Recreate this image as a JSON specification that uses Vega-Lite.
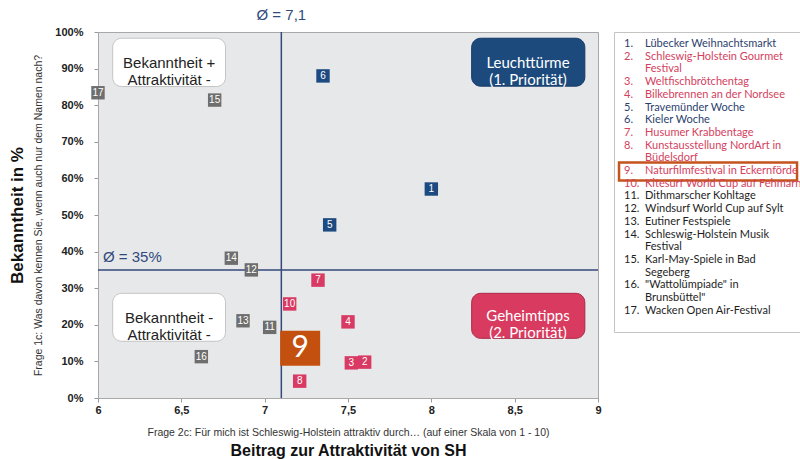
{
  "$schema": "https://vega.github.io/schema/vega-lite/v6.json",
  "padding": {"left": 7, "top": 7, "right": 0, "bottom": 0},
  "background": "white",
  "spacing": 11,
  "config": {"font": "Liberation Sans", "view": {"stroke": null}, "axis": {"labelOverlap": false, "labelSeparation": 0}},
  "resolve": {"scale": {"x": "independent", "y": "independent", "color": "independent"}, "axis": {"x": "independent", "y": "independent"}},
  "datasets": {
    "pts": [
      {"id": "1", "x": 8.0, "y": 0.571, "cat": "blue"},
      {"id": "2", "x": 7.6, "y": 0.098, "cat": "red"},
      {"id": "3", "x": 7.52, "y": 0.096, "cat": "red"},
      {"id": "4", "x": 7.5, "y": 0.208, "cat": "red"},
      {"id": "5", "x": 7.39, "y": 0.473, "cat": "blue"},
      {"id": "6", "x": 7.35, "y": 0.88, "cat": "blue"},
      {"id": "7", "x": 7.32, "y": 0.322, "cat": "red"},
      {"id": "8", "x": 7.21, "y": 0.046, "cat": "red"},
      {"id": "10", "x": 7.15, "y": 0.257, "cat": "red"},
      {"id": "11", "x": 7.03, "y": 0.193, "cat": "grey"},
      {"id": "12", "x": 6.92, "y": 0.35, "cat": "grey"},
      {"id": "13", "x": 6.87, "y": 0.211, "cat": "grey"},
      {"id": "14", "x": 6.8, "y": 0.382, "cat": "grey"},
      {"id": "15", "x": 6.7, "y": 0.814, "cat": "grey"},
      {"id": "16", "x": 6.62, "y": 0.113, "cat": "grey"},
      {"id": "17", "x": 6.0, "y": 0.834, "cat": "grey"}
    ],
    "boxes": [
      {"kind": "plain", "x": 6.088, "x2": 6.765, "y": 0.983, "y2": 0.851, "xc": 6.427, "yc": 0.915, "label": ["Bekanntheit +", "Attraktivität -"]},
      {"kind": "top", "x": 8.242, "x2": 8.921, "y": 0.983, "y2": 0.852, "xc": 8.58, "yc": 0.915, "label": ["Leuchttürme", "(1. Priorität)"]},
      {"kind": "plain", "x": 6.088, "x2": 6.765, "y": 0.286, "y2": 0.155, "xc": 6.427, "yc": 0.219, "label": ["Bekanntheit -", "Attraktivität -"]},
      {"kind": "secret", "x": 8.242, "x2": 8.921, "y": 0.286, "y2": 0.163, "xc": 8.58, "yc": 0.225, "label": ["Geheimtipps", "(2. Priorität)"]}
    ],
    "legend": [
      {"line": 0, "num": "1.", "name": "Lübecker Weihnachtsmarkt", "cat": "blue"},
      {"line": 1, "num": "2.", "name": "Schleswig-Holstein Gourmet", "cat": "red"},
      {"line": 2, "num": "", "name": "Festival", "cat": "red"},
      {"line": 3, "num": "3.", "name": "Weltfischbrötchentag", "cat": "red"},
      {"line": 4, "num": "4.", "name": "Bilkebrennen an der Nordsee", "cat": "red"},
      {"line": 5, "num": "5.", "name": "Travemünder Woche", "cat": "blue"},
      {"line": 6, "num": "6.", "name": "Kieler Woche", "cat": "blue"},
      {"line": 7, "num": "7.", "name": "Husumer Krabbentage", "cat": "red"},
      {"line": 8, "num": "8.", "name": "Kunstausstellung NordArt in", "cat": "red"},
      {"line": 9, "num": "", "name": "Büdelsdorf", "cat": "red"},
      {"line": 10, "num": "9.", "name": "Naturfilmfestival in Eckernförde", "cat": "red"},
      {"line": 11, "num": "10.", "name": "Kitesurf World Cup auf Fehmarn", "cat": "red"},
      {"line": 12, "num": "11.", "name": "Dithmarscher Kohltage", "cat": "black"},
      {"line": 13, "num": "12.", "name": "Windsurf World Cup auf Sylt", "cat": "black"},
      {"line": 14, "num": "13.", "name": "Eutiner Festspiele", "cat": "black"},
      {"line": 15, "num": "14.", "name": "Schleswig-Holstein Musik", "cat": "black"},
      {"line": 16, "num": "", "name": "Festival", "cat": "black"},
      {"line": 17, "num": "15.", "name": "Karl-May-Spiele in Bad", "cat": "black"},
      {"line": 18, "num": "", "name": "Segeberg", "cat": "black"},
      {"line": 19, "num": "16.", "name": "\"Wattolümpiade\" in", "cat": "black"},
      {"line": 20, "num": "", "name": "Brunsbüttel\"", "cat": "black"},
      {"line": 21, "num": "17.", "name": "Wacken Open Air-Festival", "cat": "black"}
    ]
  },
  "hconcat": [
    {
      "width": 500,
      "height": 366,
      "view": {"fill": "#e7e8e9", "stroke": "#a8a8a8"},
      "resolve": {"axis": {"x": "independent", "y": "independent"}},
      "layer": [
        {
          "layer": [
            {
              "data": {"name": "boxes"},
              "mark": {"type": "rect", "cornerRadius": 9, "strokeWidth": 1},
              "encoding": {
                "x": {"field": "x", "type": "quantitative",
                  "scale": {"domain": [6, 9], "nice": false, "zero": false},
                  "axis": {"values": [6, 6.5, 7, 7.5, 8, 8.5, 9], "labelExpr": "replace(format(datum.value, '.2~f'), '.', ',')",
                    "labelFlush": false, "labelOverlap": false, "labelFontWeight": "bold", "labelFontSize": 11, "labelColor": "#222222",
                    "labelPadding": 2, "tickSize": 4, "tickColor": "#9a9a9a", "domainColor": "#a8a8a8", "grid": false,
                    "title": "Frage 2c: Für mich ist Schleswig-Holstein attraktiv durch… (auf einer Skala von 1 - 10)",
                    "titleFontSize": 10.5, "titleFontWeight": "normal", "titleColor": "#333333", "titlePadding": 12}},
                "x2": {"field": "x2"},
                "y": {"field": "y", "type": "quantitative",
                  "scale": {"domain": [0, 1], "nice": false, "zero": false},
                  "axis": {"values": [0, 0.1, 0.2, 0.3, 0.4, 0.5, 0.6, 0.7, 0.8, 0.9, 1], "tickCount": 11, "labelExpr": "format(datum.value, '.0%')",
                    "labelFlush": false, "labelOverlap": false, "labelFontWeight": "bold", "labelFontSize": 11, "labelColor": "#222222",
                    "labelPadding": 11, "tickSize": 4, "tickColor": "#9a9a9a", "domainColor": "#a8a8a8", "grid": false,
                    "title": "Frage 1c: Was davon kennen Sie, wenn auch nur dem Namen nach?",
                    "titleFontSize": 10.5, "titleFontWeight": "normal", "titleColor": "#333333", "titlePadding": 11}},
                "y2": {"field": "y2"},
                "fill": {"field": "kind", "type": "nominal", "legend": null,
                  "scale": {"domain": ["plain", "top", "secret"], "range": ["#ffffff", "#1d4a7d", "#d93a60"]}},
                "stroke": {"field": "kind", "type": "nominal", "legend": null,
                  "scale": {"domain": ["plain", "top", "secret"], "range": ["#c4c4c4", "#143866", "#a92a48"]}}
              }
            },
            {
              "data": {"name": "boxes"},
              "transform": [{"filter": "datum.kind == 'plain'"}],
              "mark": {"type": "text", "font": "Liberation Sans", "fontSize": 15, "lineHeight": 17, "color": "#222222", "baseline": "middle"},
              "encoding": {
                "x": {"field": "xc", "type": "quantitative"},
                "y": {"field": "yc", "type": "quantitative"},
                "text": {"field": "label"}
              }
            },
            {
              "data": {"name": "boxes"},
              "transform": [{"filter": "datum.kind != 'plain'"}],
              "mark": {"type": "text", "font": "Lato", "fontSize": 15, "lineHeight": 17, "color": "#ffffff", "baseline": "middle"},
              "encoding": {
                "x": {"field": "xc", "type": "quantitative"},
                "y": {"field": "yc", "type": "quantitative"},
                "text": {"field": "label"}
              }
            },
            {
              "data": {"values": [{"x": 7.1}]},
              "mark": {"type": "rule", "color": "#34497a", "strokeWidth": 1.5},
              "encoding": {"x": {"field": "x", "type": "quantitative"}}
            },
            {
              "data": {"values": [{"y": 0.35}]},
              "mark": {"type": "rule", "color": "#34497a", "strokeWidth": 1.5},
              "encoding": {"y": {"field": "y", "type": "quantitative"}}
            },
            {
              "data": {"values": [{"x": 7.1, "y": 1.046, "t": "Ø = 7,1"}]},
              "mark": {"type": "text", "fontSize": 15, "color": "#2f4a7e", "baseline": "middle", "align": "center"},
              "encoding": {
                "x": {"field": "x", "type": "quantitative"},
                "y": {"field": "y", "type": "quantitative"},
                "text": {"field": "t"}
              }
            },
            {
              "data": {"values": [{"x": 6.03, "y": 0.384, "t": "Ø = 35%"}]},
              "mark": {"type": "text", "fontSize": 15, "color": "#2f4a7e", "baseline": "middle", "align": "left"},
              "encoding": {
                "x": {"field": "x", "type": "quantitative"},
                "y": {"field": "y", "type": "quantitative"},
                "text": {"field": "t"}
              }
            },
            {
              "data": {"name": "pts"},
              "mark": {"type": "point", "shape": "square", "filled": true, "size": 180, "opacity": 1},
              "encoding": {
                "x": {"field": "x", "type": "quantitative"},
                "y": {"field": "y", "type": "quantitative"},
                "color": {"field": "cat", "type": "nominal", "legend": null,
                  "scale": {"domain": ["blue", "red", "grey"], "range": ["#1d4a80", "#d83a63", "#6e6e6e"]}}
              }
            },
            {
              "data": {"name": "pts"},
              "mark": {"type": "text", "fontSize": 10, "color": "#ffffff", "baseline": "middle"},
              "encoding": {
                "x": {"field": "x", "type": "quantitative"},
                "y": {"field": "y", "type": "quantitative"},
                "text": {"field": "id"}
              }
            },
            {
              "data": {"values": [{"id": "9", "x": 7.213, "y": 0.136}]},
              "mark": {"type": "point", "shape": "M-1,-0.875L1,-0.875L1,0.875L-1,0.875Z", "filled": true, "size": 1600, "opacity": 1, "color": "#c4500f"},
              "encoding": {
                "x": {"field": "x", "type": "quantitative"},
                "y": {"field": "y", "type": "quantitative"}
              }
            },
            {
              "data": {"values": [{"id": "9", "x": 7.213, "y": 0.136}]},
              "mark": {"type": "text", "font": "Lato", "fontSize": 30, "color": "#ffffff", "baseline": "middle"},
              "encoding": {
                "x": {"field": "x", "type": "quantitative"},
                "y": {"field": "y", "type": "quantitative"},
                "text": {"field": "id"}
              }
            }
          ]
        },
        {
          "data": {"values": [{"x": 6, "y": 0}]},
          "mark": {"type": "point", "opacity": 0},
          "encoding": {
            "x": {"field": "x", "type": "quantitative",
              "scale": {"domain": [6, 9], "nice": false, "zero": false},
              "axis": {"orient": "bottom", "labels": false, "ticks": false, "domain": false, "grid": false,
                "title": "Beitrag zur Attraktivität von SH", "titleFontSize": 16, "titleFontWeight": "bold",
                "titleColor": "#111111", "titlePadding": 44}},
            "y": {"field": "y", "type": "quantitative",
              "scale": {"domain": [0, 1], "nice": false, "zero": false},
              "axis": {"orient": "left", "labels": false, "ticks": false, "domain": false, "grid": false,
                "title": "Bekanntheit  in %", "titleFontSize": 17, "titleFontWeight": "bold",
                "titleColor": "#111111", "titlePadding": 72}}
          }
        }
      ]
    },
    {
      "width": 186,
      "height": 300,
      "view": {"fill": "#ffffff", "stroke": "#c4c4c4"},
      "data": {"name": "legend"},
      "layer": [
        {
          "transform": [{"filter": "datum.line == 10"}],
          "mark": {"type": "rect", "fill": null, "stroke": "#c4531c", "strokeWidth": 2.5},
          "encoding": {
            "x": {"datum": 0.027, "type": "quantitative", "scale": {"domain": [0, 1]}, "axis": null},
            "x2": {"datum": 0.984},
            "y": {"datum": 9.33, "type": "quantitative", "scale": {"domain": [-0.94, 22.66], "reverse": true, "nice": false, "zero": false}, "axis": null},
            "y2": {"datum": 10.74}
          }
        },
        {
          "mark": {"type": "text", "font": "Lato", "fontSize": 11, "align": "left", "baseline": "middle"},
          "encoding": {
            "x": {"datum": 0.054, "type": "quantitative"},
            "y": {"field": "line", "type": "quantitative"},
            "text": {"field": "num"},
            "color": {"field": "cat", "type": "nominal", "legend": null,
              "scale": {"domain": ["blue", "red", "black"], "range": ["#2c3f6e", "#d4415e", "#1e1e1e"]}}
          }
        },
        {
          "mark": {"type": "text", "font": "Lato", "fontSize": 11, "align": "left", "baseline": "middle"},
          "encoding": {
            "x": {"datum": 0.167, "type": "quantitative"},
            "y": {"field": "line", "type": "quantitative"},
            "text": {"field": "name"},
            "color": {"field": "cat", "type": "nominal", "legend": null,
              "scale": {"domain": ["blue", "red", "black"], "range": ["#2c3f6e", "#d4415e", "#1e1e1e"]}}
          }
        }
      ]
    }
  ]
}
